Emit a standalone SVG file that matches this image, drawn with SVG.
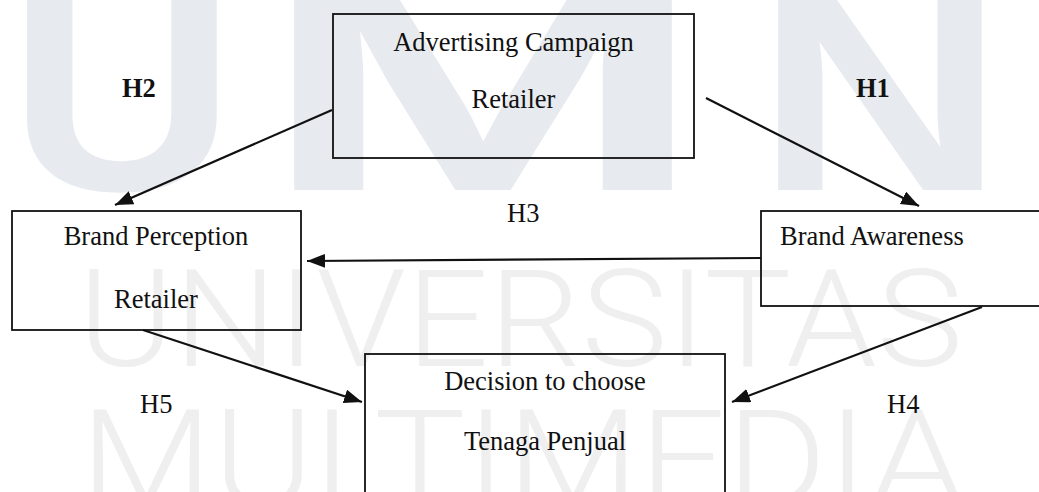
<svg xmlns="http://www.w3.org/2000/svg" width="1039" height="492" viewBox="0 0 1039 492">
  <style>
    .wm-bold { font-family: "Liberation Sans", Arial, sans-serif; font-weight: bold; fill: #e7ebf0; }
    .wm-thin { font-family: Roboto, Lato, "Liberation Sans", sans-serif; font-weight: 300; fill: #efefef; }
    .box { fill: none; stroke: #111; stroke-width: 1.8; }
    .lbl { font-family: "Liberation Serif", "Times New Roman", serif; font-size: 26.5px; fill: #111; }
    .mid { text-anchor: middle; }
    .hb { font-weight: bold; }
    .edge { stroke: #111; stroke-width: 2.2; fill: none; marker-end: url(#arrow); }
  </style>
  <defs>
    <marker id="arrow" markerUnits="userSpaceOnUse" markerWidth="20" markerHeight="16" refX="18" refY="7" orient="auto">
      <path d="M0,0 L18,7 L0,14 Z" fill="#111"/>
    </marker>
  </defs>
  <rect width="1039" height="492" fill="#ffffff"/>
  <g id="watermark">
    <text class="wm-bold" x="8" y="190" font-size="280" textLength="228" lengthAdjust="spacingAndGlyphs">U</text>
    <text class="wm-bold" x="258" y="190" font-size="280" textLength="450" lengthAdjust="spacingAndGlyphs">M</text>
    <text class="wm-bold" x="755" y="190" font-size="280" textLength="250" lengthAdjust="spacingAndGlyphs">N</text>
    <text class="wm-thin" x="78" y="366" font-size="135" textLength="885" lengthAdjust="spacingAndGlyphs">UNIVERSITAS</text>
    <text class="wm-thin" x="80" y="506" font-size="135" textLength="885" lengthAdjust="spacingAndGlyphs">MULTIMEDIA</text>
  </g>
  <g id="connectors">
    <line class="edge" x1="332" y1="110" x2="115" y2="205"/>
    <line class="edge" x1="706" y1="98" x2="919" y2="206"/>
    <line class="edge" x1="761" y1="258" x2="307" y2="261"/>
    <line class="edge" x1="143" y1="330" x2="362" y2="402"/>
    <line class="edge" x1="982" y1="307" x2="732" y2="402"/>
    <text class="lbl hb" x="122" y="97">H2</text>
    <text class="lbl hb" x="856" y="97">H1</text>
    <text class="lbl" x="507" y="222">H3</text>
    <text class="lbl" x="140" y="413">H5</text>
    <text class="lbl" x="887" y="413">H4</text>
  </g>
  <g id="node-advertising">
    <rect class="box" x="333" y="14" width="361" height="144"/>
    <text class="lbl mid" x="513.5" y="51">Advertising Campaign</text>
    <text class="lbl mid" x="513.5" y="108">Retailer</text>
  </g>
  <g id="node-perception">
    <rect class="box" x="12" y="211" width="289" height="119"/>
    <text class="lbl mid" x="156" y="245">Brand Perception</text>
    <text class="lbl mid" x="156" y="308">Retailer</text>
  </g>
  <g id="node-awareness">
    <rect class="box" x="761" y="211" width="300" height="95"/>
    <text class="lbl" x="780" y="245">Brand Awareness</text>
  </g>
  <g id="node-decision">
    <rect class="box" x="365" y="354" width="360" height="160"/>
    <text class="lbl mid" x="545" y="390">Decision to choose</text>
    <text class="lbl mid" x="545" y="450">Tenaga Penjual</text>
  </g>
</svg>
